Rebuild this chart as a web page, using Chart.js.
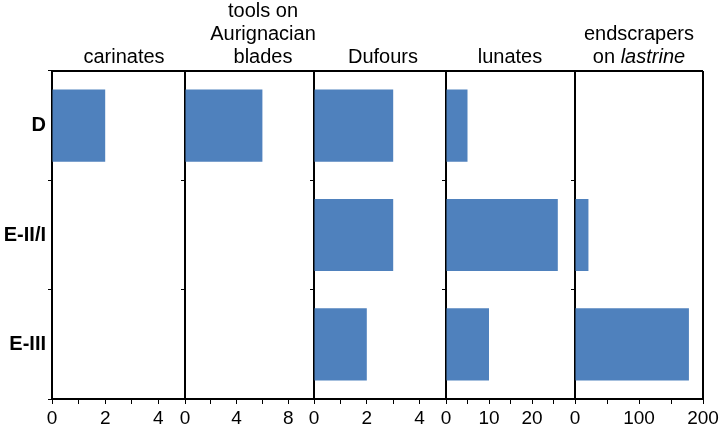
<!DOCTYPE html>
<html>
<head>
<meta charset="utf-8">
<script src="https://cdn.jsdelivr.net/npm/chart.js@4.4.1/dist/chart.umd.min.js"></script>
<style>
  html, body { margin: 0; padding: 0; background: #fff; }
  #wrap { position: relative; width: 724px; height: 428px; overflow: hidden; }
  #wrap canvas { position: absolute; top: 0; }
  .ptitle {
    position: absolute;
    bottom: 360px;
    transform: translateX(-50%);
    font-family: "Liberation Sans", Arial, sans-serif;
    font-size: 20px;
    line-height: 23px;
    color: #000;
    text-align: center;
    white-space: nowrap;
  }
</style>
</head>
<body>
<div id="wrap"></div>
<script>
// categories (rows) and one series per panel
const categories = ['D', 'E-II/I', 'E-III'];
const carinates = [2, null, null];
const aurignacianBlades = [6, null, null];
const dufours = [3, 3, 2];
const lunates = [5, 26, 10];
const endscrapers = [null, 21, 178];

// axis ranges and tick labels per panel
const axisMax = [5, 10, 5, 30, 200];
const tickStep = [1, 2, 1, 5, 50];
const tickLabels = [[0, 2, 4], [0, 4, 8], [0, 2, 4], [0, 10, 20], [0, 100, 200]];

const panelTitles = [
  ['carinates'],
  ['tools on', 'Aurignacian', 'blades'],
  ['Dufours'],
  ['lunates'],
  ['endscrapers', 'on <i>lastrine</i>']
];

const seriesList = [carinates, aurignacianBlades, dufours, lunates, endscrapers];

// layout (pixels)
const panelEdges = [52, 185, 314, 446, 575, 703];
const titleCenters = [124, 263, 383, 510, 639];
const plotTop = 71;
const plotBottom = 399;
const H = 428;
const FONT = '"Liberation Sans", Arial, sans-serif';

document.addEventListener('DOMContentLoaded', function() {
  const wrap = document.getElementById('wrap');
  seriesList.forEach((data, i) => buildPanel(wrap, data, i));
  panelTitles.forEach((lines, i) => {
    const d = document.createElement('div');
    d.className = 'ptitle';
    d.style.left = titleCenters[i] + 'px';
    d.innerHTML = lines.join('<br>');
    wrap.appendChild(d);
  });
});

const frameLines = {
  id: 'frameLines',
  afterDraw(chart, args, opts) {
    const a = chart.chartArea;
    const ctx = chart.ctx;
    ctx.save();
    ctx.strokeStyle = '#000';
    ctx.lineWidth = 2;
    ctx.beginPath();
    ctx.moveTo(a.left, a.top);
    ctx.lineTo(a.right, a.top);
    if (opts.right) {
      ctx.moveTo(a.right, a.top);
      ctx.lineTo(a.right, a.bottom);
    }
    ctx.stroke();
    ctx.restore();
  }
};

function buildPanel(wrap, data, i) {
  const first = i === 0;
  const last = i === seriesList.length - 1;
  const padL = first ? panelEdges[0] : 20;
  const padR = 20;
  const left = panelEdges[i] - padL;
  const width = panelEdges[i + 1] - panelEdges[i] + padL + padR;

  const canvas = document.createElement('canvas');
  canvas.width = width;
  canvas.height = H;
  canvas.style.left = left + 'px';
  canvas.style.width = width + 'px';
  canvas.style.height = H + 'px';
  wrap.appendChild(canvas);

  new Chart(canvas, {
    type: 'bar',
    data: {
      labels: categories,
      datasets: [{
        data: data,
        backgroundColor: '#4F81BD',
        borderWidth: 0,
        barPercentage: 0.66,
        categoryPercentage: 1
      }]
    },
    plugins: [frameLines],
    options: {
      indexAxis: 'y',
      responsive: false,
      animation: false,
      layout: { padding: { top: plotTop, right: padR, left: 0, bottom: 0 } },
      plugins: {
        legend: { display: false },
        tooltip: { enabled: false },
        frameLines: { right: last }
      },
      scales: {
        x: {
          min: 0,
          max: axisMax[i],
          afterFit: axis => { axis.height = H - plotBottom; },
          border: { display: true, color: '#000', width: 2 },
          grid: { display: true, drawOnChartArea: false, tickLength: 5, color: '#000', lineWidth: 1 },
          ticks: {
            stepSize: tickStep[i],
            autoSkip: false,
            maxRotation: 0,
            padding: 3,
            color: '#000',
            font: { family: FONT, size: 19 },
            callback: v => tickLabels[i].includes(v) ? v : ''
          }
        },
        y: {
          afterFit: axis => { axis.width = padL; },
          border: { display: true, color: '#000', width: 2 },
          grid: { display: true, drawOnChartArea: false, tickLength: 4, color: '#000', lineWidth: 1 },
          ticks: {
            display: first,
            padding: 2,
            color: '#000',
            font: { family: FONT, size: 20, weight: 'bold' }
          }
        }
      }
    }
  });
}
</script>
</body>
</html>
